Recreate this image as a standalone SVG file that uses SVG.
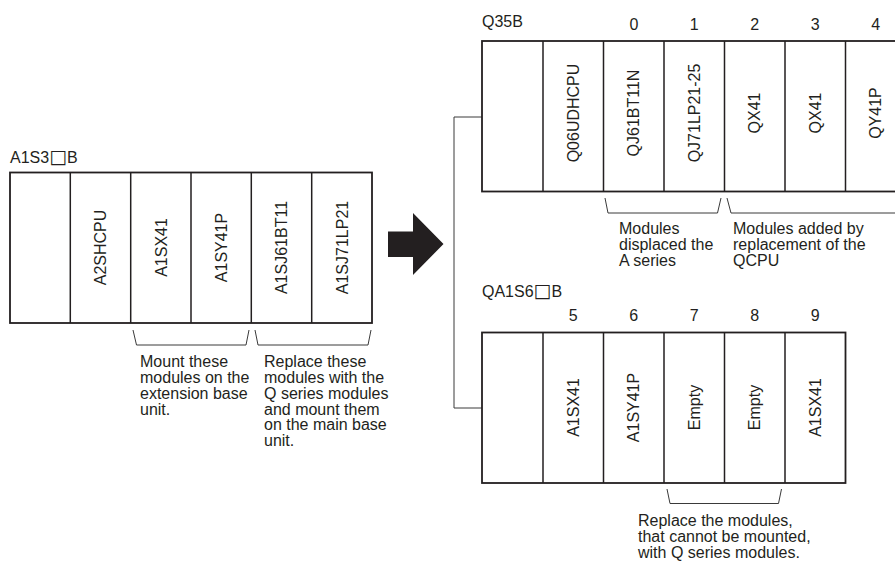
<svg xmlns="http://www.w3.org/2000/svg" width="895" height="562" viewBox="0 0 895 562">
<style>
  text { font-family: "Liberation Sans", Arial, "DejaVu Sans", sans-serif; font-size: 16px; fill: #231f20; }
  .sq { font-family: "DejaVu Sans", sans-serif; font-size: 19px; }
  .num { text-anchor: middle; }
  .mod { text-anchor: middle; dominant-baseline: central; }
  .box { fill: #ffffff; stroke: #231f20; stroke-width: 1.8; }
  .div { stroke: #231f20; stroke-width: 1.5; fill: none; }
  .thin { stroke: #3a3a3a; stroke-width: 1; fill: none; }
</style>

<g id="connectors">
  <polyline class="thin" points="482,117 454,117 454,408 482,408"/>
  <polygon id="arrow" points="388,231.5 413,231.5 413,213 443.5,244 413,275 413,257 388,257" fill="#231f20"/>
  <polyline class="thin" points="133,330 136.5,345 246,345 249,330"/>
  <polyline class="thin" points="255,330 258,345 368,345 371,330"/>
  <polyline class="thin" points="605,198 608,213 717.5,213 721,198"/>
  <polyline class="thin" points="727,198 731,213 900,213"/>
  <polyline class="thin" points="667,489 670,503.5 778.5,503.5 781.5,489"/>
</g>

<g id="base-a1s3b">
  <text x="10" y="163">A1S3<tspan class="sq">□</tspan>B</text>
  <rect class="box" x="10" y="172.5" width="362" height="150.5"/>
  <path class="div" d="M70.3,172.5V323M130.7,172.5V323M191,172.5V323M251.3,172.5V323M311.7,172.5V323"/>
  <g id="mod-a2shcpu"><text class="mod" transform="translate(100.5,247.5) rotate(-90)">A2SHCPU</text></g>
  <g id="mod-a1sx41"><text class="mod" transform="translate(161,247.5) rotate(-90)">A1SX41</text></g>
  <g id="mod-a1sy41p"><text class="mod" transform="translate(221.2,247.5) rotate(-90)">A1SY41P</text></g>
  <g id="mod-a1sj61bt11"><text class="mod" transform="translate(281.5,247.5) rotate(-90)">A1SJ61BT11</text></g>
  <g id="mod-a1sj71lp21"><text class="mod" transform="translate(342,247.5) rotate(-90)">A1SJ71LP21</text></g>
</g>

<g id="note-mount">
  <text x="140" y="367">Mount these</text>
  <text x="140" y="383">modules on the</text>
  <text x="140" y="399">extension base</text>
  <text x="140" y="414.5">unit.</text>
</g>
<g id="note-replace">
  <text x="264" y="367">Replace these</text>
  <text x="264" y="383">modules with the</text>
  <text x="264" y="399">Q series modules</text>
  <text x="264" y="414.5">and mount them</text>
  <text x="264" y="430">on the main base</text>
  <text x="264" y="445.5">unit.</text>
</g>

<g id="base-q35b">
  <text x="482" y="27">Q35B</text>
  <text class="num" x="634" y="29.5">0</text>
  <text class="num" x="694.2" y="29.5">1</text>
  <text class="num" x="754.7" y="29.5">2</text>
  <text class="num" x="815.2" y="29.5">3</text>
  <text class="num" x="875.7" y="29.5">4</text>
  <rect class="box" x="482" y="41" width="424" height="150.5"/>
  <path class="div" d="M543,41V191.5M603.5,41V191.5M664,41V191.5M724.5,41V191.5M785,41V191.5M845.5,41V191.5"/>
  <g id="mod-q06udhcpu"><text class="mod" transform="translate(573.2,113) rotate(-90)">Q06UDHCPU</text></g>
  <g id="mod-qj61bt11n"><text class="mod" transform="translate(633.7,113) rotate(-90)">QJ61BT11N</text></g>
  <g id="mod-qj71lp21-25"><text class="mod" transform="translate(694.2,113) rotate(-90)">QJ71LP21-25</text></g>
  <g id="mod-qx41-a"><text class="mod" transform="translate(754.7,113) rotate(-90)">QX41</text></g>
  <g id="mod-qx41-b"><text class="mod" transform="translate(815.2,113) rotate(-90)">QX41</text></g>
  <g id="mod-qy41p"><text class="mod" transform="translate(875.7,113) rotate(-90)">QY41P</text></g>
</g>

<g id="note-displaced">
  <text x="619" y="234">Modules</text>
  <text x="619" y="250">displaced the</text>
  <text x="619" y="266">A series</text>
</g>
<g id="note-added">
  <text x="733" y="234">Modules added by</text>
  <text x="733" y="250">replacement of the</text>
  <text x="733" y="266">QCPU</text>
</g>

<g id="base-qa1s6b">
  <text x="482" y="297">QA1S6<tspan class="sq">□</tspan>B</text>
  <text class="num" x="573.2" y="320.5">5</text>
  <text class="num" x="633.7" y="320.5">6</text>
  <text class="num" x="694.2" y="320.5">7</text>
  <text class="num" x="754.7" y="320.5">8</text>
  <text class="num" x="815.2" y="320.5">9</text>
  <rect class="box" x="482" y="332.5" width="363.5" height="150.5"/>
  <path class="div" d="M543,332.5V483M603.5,332.5V483M664,332.5V483M724.5,332.5V483M785,332.5V483"/>
  <g id="mod-a1sx41-q"><text class="mod" transform="translate(573.2,407.5) rotate(-90)">A1SX41</text></g>
  <g id="mod-a1sy41p-q"><text class="mod" transform="translate(633.7,407.5) rotate(-90)">A1SY41P</text></g>
  <g id="mod-empty-a"><text class="mod" transform="translate(694.2,407.5) rotate(-90)">Empty</text></g>
  <g id="mod-empty-b"><text class="mod" transform="translate(754.7,407.5) rotate(-90)">Empty</text></g>
  <g id="mod-a1sx41-r"><text class="mod" transform="translate(815.2,407.5) rotate(-90)">A1SX41</text></g>
</g>

<g id="note-cannot">
  <text x="638" y="526">Replace the modules,</text>
  <text x="638" y="542">that cannot be mounted,</text>
  <text x="638" y="558">with Q series modules.</text>
</g>
</svg>
